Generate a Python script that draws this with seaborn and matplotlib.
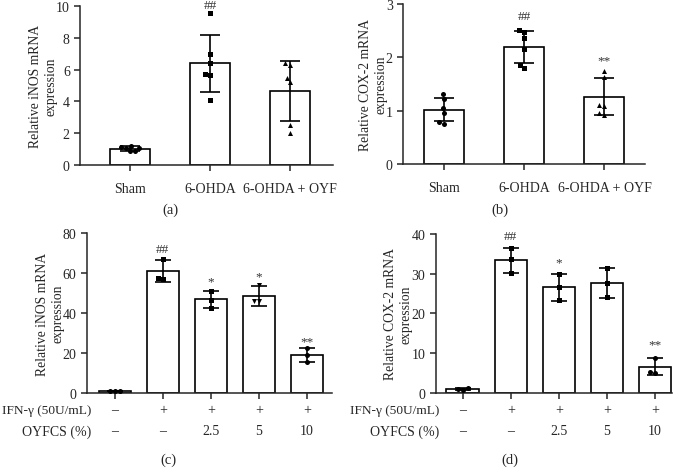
import matplotlib
matplotlib.use("Agg")
import matplotlib.pyplot as plt
import numpy as np
import pandas as pd
import seaborn as sns

# panel (a) / (b): in vivo groups
groups_ab = ["Sham", "6-OHDA", "6-OHDA + OYF"]
inos_a_mean = [1.02, 6.4, 4.65]
inos_a_sd = [0.17, 1.8, 1.9]
inos_a_pts = [[1.22, 1.12, 1.1, 1.05, 0.88, 0.85],
              [9.55, 6.97, 6.45, 5.72, 5.65, 4.1],
              [6.45, 6.3, 5.45, 5.2, 2.5, 2.0]]
cox_b_mean = [1.02, 2.19, 1.26]
cox_b_sd = [0.22, 0.30, 0.35]
cox_b_pts = [[1.31, 1.22, 1.05, 0.96, 0.78, 0.75],
             [2.5, 2.47, 2.35, 2.15, 1.85, 1.8],
             [1.75, 1.62, 1.1, 1.08, 0.95, 0.92]]
sig_a = ["", "##", ""]
sig_b = ["", "##", "**"]

# panel (c) / (d): cell groups
groups_cd = ["ctrl", "ifn", "oy2.5", "oy5", "oy10"]
ifn_labels = ["–", "+", "+", "+", "+"]
oyfcs_labels = ["–", "–", "2.5", "5", "10"]
inos_c_mean = [1.0, 61, 47, 48.5, 19]
inos_c_sd = [0.2, 5.4, 4.3, 4.9, 3.3]
inos_c_pts = [[1.2, 1.0, 0.8], [67, 57.5, 57], [51, 46.5, 42.8],
              [54, 46, 46], [22.5, 19, 15.5]]
cox_d_mean = [1.0, 33.3, 26.6, 27.6, 6.6]
cox_d_sd = [0.2, 3.2, 3.4, 3.7, 2.2]
cox_d_pts = [[1.2, 1.0, 0.8], [36.5, 33.6, 30.2], [30, 26.5, 23.3],
             [31.5, 27.5, 24], [8.8, 5.3, 5.0]]
sig_c = ["", "##", "*", "*", "**"]
sig_d = ["", "##", "*", "", "**"]

sns.set_style("ticks")
plt.rcParams["font.family"] = ["Liberation Serif", "DejaVu Serif"]
plt.rcParams["axes.linewidth"] = 1.1
plt.rcParams["xtick.major.width"] = 1.1
plt.rcParams["ytick.major.width"] = 1.1
plt.rcParams["xtick.major.size"] = 4
plt.rcParams["ytick.major.size"] = 4


def draw_panel(ax, groups, means, sds, pts, markers, sig, sig_y, width, capsize, ylim, yticks, ylabel):
    summary = pd.DataFrame({"group": groups, "value": means})
    sns.barplot(data=summary, x="group", y="value", order=groups, ax=ax,
                color="white", edgecolor="black", linewidth=1.2, width=width,
                errorbar=None)
    x = np.arange(len(groups))
    ax.errorbar(x, means, yerr=sds, fmt="none", ecolor="black",
                elinewidth=1.2, capsize=capsize, capthick=1.2, zorder=3)
    for i, g in enumerate(groups):
        df = pd.DataFrame({"group": g, "value": pts[i]})
        sns.swarmplot(data=df, x="group", y="value", order=groups, ax=ax,
                      color="black", marker=markers[i], size=3.6, zorder=4)
    for i, s in enumerate(sig):
        if s:
            ax.text(x[i], sig_y[i], s, ha="center", va="center",
                    fontsize=9.5, color="#333333", clip_on=False)
    ax.set_ylim(*ylim)
    ax.set_yticks(yticks)
    ax.set_ylabel(ylabel, fontsize=9.8, linespacing=1.25, labelpad=-1)
    ax.set_xlabel("")
    ax.tick_params(labelsize=10, direction="out")
    sns.despine(ax=ax)


fig = plt.figure(figsize=(6.8, 4.77), dpi=100)

ax_a = fig.add_axes([0.118, 0.652, 0.372, 0.333])
draw_panel(ax_a, groups_ab, inos_a_mean, inos_a_sd, inos_a_pts, ["o", "s", "^"],
           sig_a, [0, 10.1, 0], 0.5, 7, (0, 10), [0, 2, 4, 6, 8, 10],
           "Relative iNOS mRNA\nexpression")
ax_a.set_xlim(-0.625, 2.54)
ax_a.tick_params(axis="x", pad=8)

ax_b = fig.add_axes([0.593, 0.654, 0.356, 0.336])
draw_panel(ax_b, groups_ab, cox_b_mean, cox_b_sd, cox_b_pts, ["o", "s", "^"],
           sig_b, [0, 2.78, 1.94], 0.5, 7, (0, 3), [0, 1, 2, 3],
           "Relative COX-2 mRNA\nexpression")
ax_b.set_xlim(-0.51, 2.51)
ax_b.tick_params(axis="x", pad=8)

ax_c = fig.add_axes([0.128, 0.174, 0.36, 0.335])
draw_panel(ax_c, groups_cd, inos_c_mean, inos_c_sd, inos_c_pts, ["o", "s", "s", "v", "o"],
           sig_c, [0, 72, 55.7, 58.3, 25.7], 0.68, 6, (0, 80), [0, 20, 40, 60, 80],
           "Relative iNOS mRNA\nexpression")
ax_c.set_xlim(-0.58, 4.52)

ax_d = fig.add_axes([0.641, 0.174, 0.347, 0.334])
draw_panel(ax_d, groups_cd, cox_d_mean, cox_d_sd, cox_d_pts, ["o", "s", "s", "s", "o"],
           sig_d, [0, 39.4, 32.8, 0, 12.1], 0.68, 6, (0, 40), [0, 10, 20, 30, 40],
           "Relative COX-2 mRNA\nexpression")
ax_d.set_xlim(-0.56, 4.35)

for ax in (ax_c, ax_d):
    ax.set_xticks(np.arange(len(groups_cd)))
    ax.set_xticklabels([""] * len(groups_cd))
    tr = ax.get_xaxis_transform()
    for i in range(len(groups_cd)):
        ax.text(i, -0.106, ifn_labels[i], transform=tr, ha="center", va="center", fontsize=10)
        ax.text(i, -0.2375, oyfcs_labels[i], transform=tr, ha="center", va="center", fontsize=10)
    ax.text(0.016, -0.106, "IFN-γ (50U/mL)", transform=ax.transAxes, ha="right", va="center", fontsize=9.6)
    ax.text(0.016, -0.2375, "OYFCS (%)", transform=ax.transAxes, ha="right", va="center", fontsize=10)

fig.text(0.25, 1 - 210 / 477, "(a)", ha="center", va="center", fontsize=10.5)
fig.text(0.735, 1 - 210 / 477, "(b)", ha="center", va="center", fontsize=10.5)
fig.text(0.247, 1 - 460 / 477, "(c)", ha="center", va="center", fontsize=10.5)
fig.text(0.75, 1 - 460 / 477, "(d)", ha="center", va="center", fontsize=10.5)

fig.savefig("out.png", dpi=100)
